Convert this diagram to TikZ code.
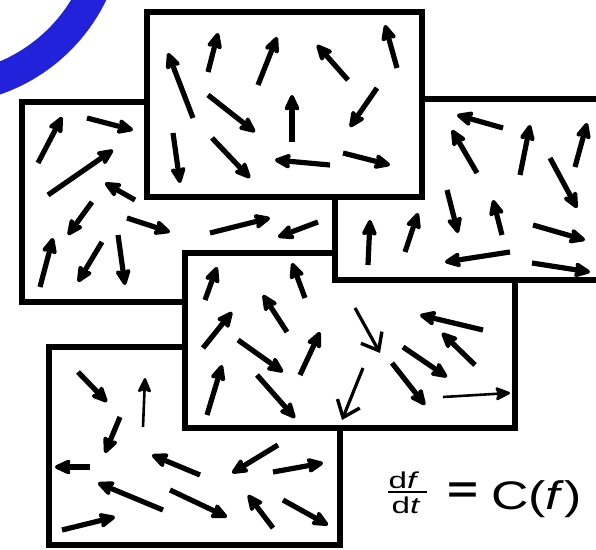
\documentclass[tikz,border=0pt]{standalone}
\usepackage{fontspec}
\usepackage{graphicx}
\usepackage{xcolor}
\setsansfont{Liberation Sans}
\usetikzlibrary{arrows.meta}
\definecolor{bandblue}{RGB}{34,34,218}
\tikzset{
  box/.style={fill=white,draw=black,line width=5.5bp},
  vec/.style={line width=5.2bp,-{Stealth[length=20bp,width=18bp,inset=4bp,round]}},
  thinvec/.style={line width=2.6bp,-{Stealth[length=17bp,width=15bp,inset=3bp,round]}},
  veevec/.style={line width=3.2bp,-{Straight Barb[length=15bp,width=24bp,line width=3.4bp]}},
  eqn/.style={inner sep=0pt,font=\sffamily}
}
\begin{document}
\begin{tikzpicture}[x=1bp,y=-1bp]
  \useasboundingbox (0,0) rectangle (596,550); \clip (0,0) rectangle (596,550);
  \fill[white] (0,0) rectangle (596,550);
  \draw[bandblue,line width=31bp] (-60,-80) circle[radius=169];
  % left frame
  \draw[box] (22,102) rectangle (400,302);
  \foreach \xa/\ya/\xb/\yb in {38/163/62/117, 87/118/133/130, 48/195/113/150, 135/200/105/183, 92/202/68/235, 127/218/170/232, 40/287/53/238, 102/242/78/282, 118/235/125/285, 210/233/270/218, 318/222/278/237}
    \draw[vec] (\xa,\ya) -- (\xb,\yb);
  % bottom frame
  \draw[box] (49,347) rectangle (340,545);
  \foreach \xa/\ya/\xb/\yb in {78/372/107/402, 120/417/105/453, 90/467/55/467, 200/475/152/455, 278/445/232/473, 273/472/323/463, 163/510/98/483, 170/490/227/517, 273/528/248/495, 283/500/328/525, 62/530/115/517}
    \draw[vec] (\xa,\ya) -- (\xb,\yb);
  \draw[thinvec] (143,427) -- (145,378);
  % middle frame
  \draw[box] (185,253) rectangle (515,428);
  \foreach \xa/\ya/\xb/\yb in {205/300/217/267, 305/298/292/263, 287/332/263/295, 203/348/232/312, 238/340/283/372, 300/375/320/332, 207/415/222/365, 257/375/295/418, 483/330/420/315, 475/365/442/333, 403/347/447/377, 392/363/425/405}
    \draw[vec] (\xa,\ya) -- (\xb,\yb);
  \draw[veevec] (355,308) -- (380,353); \draw[veevec] (363,368) -- (342,420);
  \draw[thinvec] (443,397) -- (510,393);
  % right frame
  \draw[box] (335,99) rectangle (620,280);
  \foreach \xa/\ya/\xb/\yb in {503/128/457/115, 477/173/452/130, 520/175/530/125, 575/167/587/123, 550/158/577/208, 368/265/370/220, 405/252/418/213, 447/190/458/233, 502/235/493/200, 533/225/585/240, 510/252/445/262, 532/263/590/272}
    \draw[vec] (\xa,\ya) -- (\xb,\yb);
  % top frame
  \draw[box] (147,12) rectangle (422,197);
  \foreach \xa/\ya/\xb/\yb in {193/118/168/53, 208/72/218/33, 258/85/277/37, 348/80/317/45, 397/68/385/25, 208/95/255/132, 292/142/292/95, 377/88/350/127, 173/133/180/183, 212/138/250/178, 330/165/275/160, 343/153/390/165}
    \draw[vec] (\xa,\ya) -- (\xb,\yb);
  % kinetic equation
  \node[eqn,anchor=base] (num) at (404,488) {\fontsize{23}{23}\selectfont\scalebox{1.45}[1]{d\textit{f}}};
  \node[eqn,anchor=base] (den) at (406,513) {\fontsize{23}{23}\selectfont\scalebox{1.45}[1]{d\textit{t}}};
  \draw[line width=2.5bp] (388,492) -- (427,492);
  \node[eqn] (eq) at (463,493) {\fontsize{38}{38}\selectfont\scalebox{1.4}[1]{\bfseries =}};
  \node[eqn,anchor=base west] (rhs) at (491,509) {\fontsize{40}{40}\selectfont\scalebox{1.3}[1]{C(\textit{f})}};
\end{tikzpicture}
\end{document}
